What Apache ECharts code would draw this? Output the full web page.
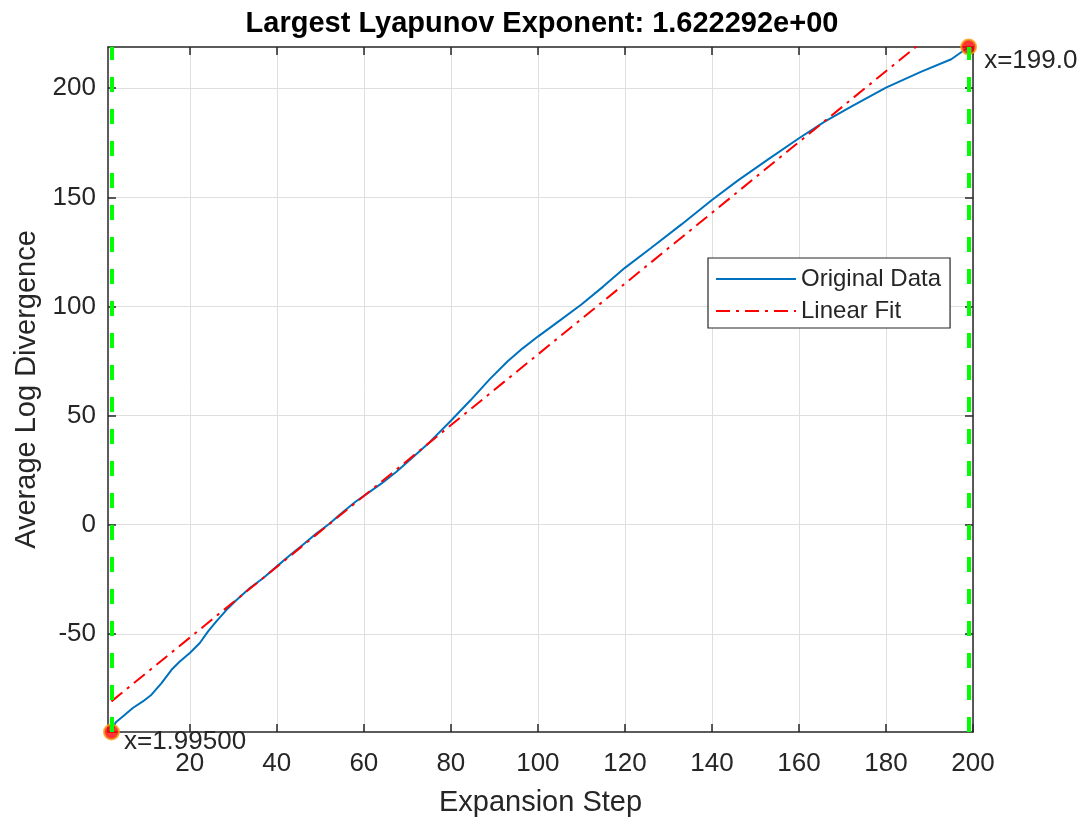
<!DOCTYPE html>
<html>
<head>
<meta charset="utf-8">
<script src="https://cdn.jsdelivr.net/npm/echarts@6/dist/echarts.min.js"></script>
<style>
  html, body { margin: 0; padding: 0; background: #ffffff; }
  #chart { width: 1084px; height: 818px; }
</style>
</head>
<body>
<div id="chart"></div>
<script>
// Expansion steps and the averaged log divergence measured at each step
const stepX = [1.995, 3, 4.6, 6.9, 9.2, 11.2, 13.5, 15.8, 17.7, 20, 22.3, 24.2, 26.1, 28.5, 30.8,
  33.8, 36.9, 40, 43, 46, 49, 52, 55, 58, 61, 64, 67.5, 71, 75, 80, 84.5, 89, 93, 96.5, 100,
  105, 110, 115, 120, 126, 133, 140, 146, 153, 160, 166, 172, 180, 188, 195, 199];
const logDiv = [-95.0, -90.5, -87.9, -84.0, -81.0, -77.9, -72.6, -66.5, -62.7, -58.8, -54.2, -48.9, -44.3, -38.9, -34.4,
  -29.0, -24.4, -19.1, -14.0, -9.2, -4.2, 0.3, 5.5, 10.4, 14.6, 18.8, 24.3, 30.5, 37.6, 47.6, 57.0, 66.8, 74.8, 80.8, 86.2,
  93.5, 100.9, 109.1, 117.7, 126.8, 137.6, 148.8, 157.8, 167.5, 177.1, 184.8, 191.6, 200.3, 207.5, 213.3, 218.9];

// Least-squares line through the divergence curve (slope = largest Lyapunov exponent)
const fitSlope = 1.622292;
const fitIntercept = -84.2;

// Tick positions and labels
const xTicks = [20, 40, 60, 80, 100, 120, 140, 160, 180, 200];
const yTicks = [-50, 0, 50, 100, 150, 200];
const xRange = [1.2, 200];

// Data-tip texts at the two ends of the fitting window
const tipLabels = ['x=1.99500', 'x=199.0'];

const titleText = 'Largest Lyapunov Exponent: 1.622292e+00';
const xName = 'Expansion Step';
const yName = 'Average Log Divergence';
const seriesNames = ['Original Data', 'Linear Fit'];

const FONT = '"Liberation Sans", Arial, Helvetica, sans-serif';
const AX = '#262626';

const last = stepX.length - 1;
const yMin = Math.min(...logDiv);
const yMax = Math.max(...logDiv);

const curve = stepX.map((x, i) => [x, logDiv[i]]);
const fitLine = [stepX[0], stepX[last]].map(x => [x, fitSlope * x + fitIntercept]);

const chart = echarts.init(document.getElementById('chart'), null, { renderer: 'canvas' });

const baseX = {
  type: 'value', min: xRange[0], max: xRange[1],
  axisLine: { show: true, onZero: false, lineStyle: { color: AX, width: 1.5 } },
  axisTick: { show: true, inside: true, length: 8, customValues: xTicks, lineStyle: { color: AX, width: 1.5 } },
  splitLine: { show: false },
  axisLabel: { show: false }
};
const baseY = {
  type: 'value', min: yMin, max: yMax,
  axisLine: { show: true, onZero: false, lineStyle: { color: AX, width: 1.5 } },
  axisTick: { show: true, inside: true, length: 8, customValues: yTicks, lineStyle: { color: AX, width: 1.5 } },
  splitLine: { show: false },
  axisLabel: { show: false }
};

chart.setOption({
  animation: false,
  backgroundColor: '#ffffff',
  title: {
    text: titleText, left: 'center', top: 4,
    textStyle: { fontFamily: FONT, fontSize: 29, fontWeight: 'bold', color: '#000000' }
  },
  grid: { left: 108, right: 111, top: 47, bottom: 86, containLabel: false, outerBoundsMode: 'none' },
  legend: {
    orient: 'vertical', left: 708, top: 258,
    data: seriesNames,
    itemWidth: 80, itemHeight: 14, itemGap: 8,
    padding: [9, 9, 5, 7],
    borderColor: AX, borderWidth: 1.2, backgroundColor: '#ffffff',
    itemStyle: { color: 'rgba(0,0,0,0)', borderColor: 'rgba(0,0,0,0)', borderWidth: 0 },
    textStyle: { fontFamily: FONT, fontSize: 24, color: AX },
    selectedMode: false
  },
  xAxis: [
    Object.assign({}, baseX, {
      position: 'bottom',
      name: xName, nameLocation: 'middle', nameGap: 56,
      nameTextStyle: { fontFamily: FONT, fontSize: 29, color: AX },
      splitLine: { show: true, lineStyle: { color: '#dfdfdf', width: 1 } },
      axisLabel: { show: true, customValues: xTicks, margin: 19, fontFamily: FONT, fontSize: 26, color: AX }
    }),
    Object.assign({}, baseX, { position: 'top' })
  ],
  yAxis: [
    Object.assign({}, baseY, {
      position: 'left',
      name: yName, nameLocation: 'middle', nameGap: 59,
      nameTextStyle: { fontFamily: FONT, fontSize: 29, color: AX },
      splitLine: { show: true, lineStyle: { color: '#dfdfdf', width: 1 } },
      axisLabel: { show: true, customValues: yTicks, margin: 12, fontFamily: FONT, fontSize: 26, color: AX }
    }),
    Object.assign({}, baseY, { position: 'right' })
  ],
  series: [
    {
      name: seriesNames[0], type: 'line', data: curve,
      showSymbol: false, symbol: 'none', smooth: false,
      lineStyle: { color: '#0072BD', width: 2 }, itemStyle: { color: '#0072BD' },
      z: 2
    },
    {
      name: seriesNames[1], type: 'line', data: fitLine,
      showSymbol: false, symbol: 'none', clip: true,
      lineStyle: { color: '#ff0000', width: 2, type: [14, 6, 3, 6] }, itemStyle: { color: '#ff0000' },
      z: 3
    },
    {
      name: 'tips', type: 'scatter', clip: false, z: 4,
      symbol: 'circle', symbolSize: 15,
      itemStyle: { color: '#ff0000', borderColor: '#f5a318', borderWidth: 2 },
      label: {
        show: true, fontFamily: FONT, fontSize: 26, color: AX, opacity: 1,
        textBorderWidth: 0, align: 'left', verticalAlign: 'middle'
      },
      data: [
        { value: [stepX[0], logDiv[0]], label: { formatter: tipLabels[0], position: [21, 18] } },
        { value: [stepX[last], logDiv[last]], label: { formatter: tipLabels[1], position: [24, 22] } }
      ]
    },
    {
      name: 'window', type: 'line', data: [], z: 5,
      markLine: {
        silent: true, symbol: ['none', 'none'], animation: false,
        label: { show: false },
        lineStyle: { color: '#00ff00', width: 4, type: [15, 17] },
        data: [{ xAxis: stepX[0] }, { xAxis: stepX[last] }]
      }
    }
  ]
});
</script>
</body>
</html>
